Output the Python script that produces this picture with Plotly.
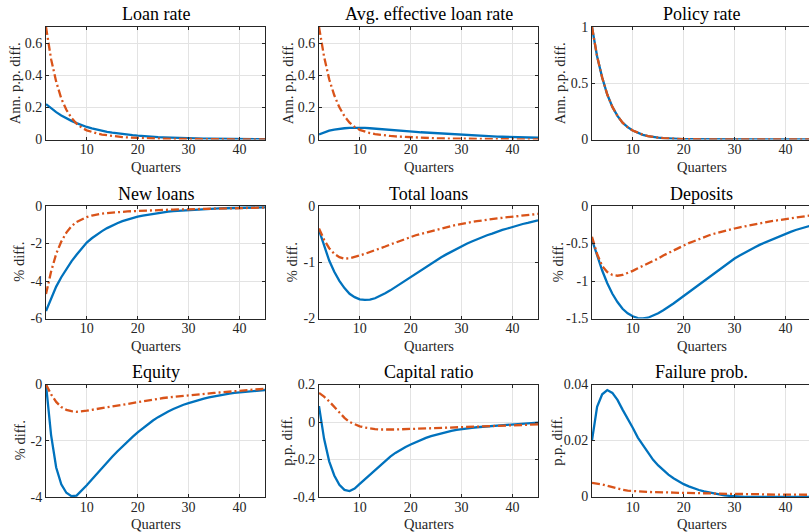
import plotly.graph_objects as go

# Impulse responses, quarters 2..45
quarters = list(range(2, 46))

loan_rate_a = [0.220, 0.193, 0.170, 0.150, 0.132, 0.116, 0.102, 0.089, 0.078, 0.069, 0.061,
               0.054, 0.048, 0.043, 0.038, 0.034, 0.030, 0.027, 0.024, 0.021, 0.019, 0.017,
               0.015, 0.0135, 0.012, 0.011, 0.0098, 0.0088, 0.0079, 0.0071, 0.0064, 0.0058, 0.0052,
               0.0047, 0.0042, 0.0038, 0.0034, 0.0031, 0.0028, 0.0025, 0.0023, 0.0021, 0.0019, 0.0017]
loan_rate_b = [0.700, 0.500, 0.360, 0.255, 0.185, 0.135, 0.098, 0.074, 0.057, 0.046, 0.038,
               0.031, 0.026, 0.022, 0.018, 0.015, 0.013, 0.011, 0.0095, 0.008, 0.007, 0.006,
               0.0053, 0.0047, 0.0042, 0.0037, 0.0033, 0.0029, 0.0026, 0.0023, 0.0021, 0.0019, 0.0017,
               0.0015, 0.0014, 0.0013, 0.0012, 0.0011, 0.001, 0.0009, 0.0008, 0.0008, 0.0007, 0.0007]

avg_loan_rate_a = [0.032, 0.045, 0.055, 0.062, 0.067, 0.070, 0.072, 0.073, 0.073, 0.072, 0.070,
                   0.068, 0.066, 0.063, 0.061, 0.058, 0.056, 0.053, 0.050, 0.048, 0.045, 0.043,
                   0.041, 0.038, 0.036, 0.034, 0.032, 0.030, 0.029, 0.027, 0.025, 0.024, 0.022,
                   0.021, 0.020, 0.018, 0.017, 0.016, 0.015, 0.014, 0.013, 0.012, 0.0115, 0.011]
avg_loan_rate_b = [0.700, 0.515, 0.375, 0.275, 0.200, 0.145, 0.105, 0.078, 0.060, 0.048, 0.040,
                   0.034, 0.029, 0.025, 0.022, 0.019, 0.017, 0.015, 0.013, 0.0115, 0.010, 0.009,
                   0.008, 0.0072, 0.0065, 0.0058, 0.0052, 0.0047, 0.0042, 0.0038, 0.0034, 0.0031, 0.0028,
                   0.0025, 0.0023, 0.0021, 0.0019, 0.0017, 0.0015, 0.0014, 0.0013, 0.0012, 0.0011, 0.001]

policy_rate = [1.0, 0.74, 0.55, 0.40, 0.29, 0.21, 0.15, 0.11, 0.08, 0.058, 0.042,
               0.031, 0.022, 0.016, 0.012, 0.0085, 0.006, 0.0045, 0.003, 0.0022, 0.0016, 0.0012,
               0.0009, 0.0007, 0.0005, 0.0004, 0.0003, 0.0002, 0.0002, 0.0001, 0.0001, 0.0001, 0.0001,
               0, 0, 0, 0, 0, 0, 0, 0, 0, 0, 0]

new_loans_a = [-5.6, -4.9, -4.3, -3.8, -3.35, -2.95, -2.6, -2.25, -1.95, -1.72, -1.52,
               -1.34, -1.18, -1.04, -0.92, -0.81, -0.72, -0.64, -0.57, -0.51, -0.46, -0.41,
               -0.37, -0.33, -0.30, -0.27, -0.25, -0.23, -0.21, -0.19, -0.175, -0.16, -0.15,
               -0.14, -0.13, -0.12, -0.11, -0.10, -0.095, -0.09, -0.085, -0.08, -0.075, -0.07]
new_loans_b = [-4.7, -3.5, -2.55, -1.9, -1.42, -1.08, -0.85, -0.70, -0.59, -0.51, -0.45,
               -0.41, -0.38, -0.35, -0.33, -0.31, -0.29, -0.275, -0.26, -0.25, -0.24, -0.23,
               -0.22, -0.21, -0.20, -0.19, -0.185, -0.18, -0.17, -0.165, -0.16, -0.15, -0.145,
               -0.14, -0.13, -0.125, -0.12, -0.115, -0.11, -0.105, -0.10, -0.095, -0.09, -0.085]

total_loans_a = [-0.43, -0.72, -0.97, -1.17, -1.33, -1.46, -1.56, -1.62, -1.66, -1.67, -1.665,
                 -1.64, -1.60, -1.55, -1.50, -1.44, -1.38, -1.32, -1.26, -1.20, -1.14, -1.08,
                 -1.02, -0.965, -0.91, -0.86, -0.81, -0.76, -0.715, -0.67, -0.63, -0.59, -0.555,
                 -0.52, -0.49, -0.455, -0.425, -0.40, -0.37, -0.345, -0.32, -0.30, -0.275, -0.255]
total_loans_b = [-0.40, -0.60, -0.75, -0.85, -0.91, -0.935, -0.93, -0.91, -0.88, -0.85, -0.82,
                 -0.785, -0.75, -0.72, -0.685, -0.65, -0.615, -0.58, -0.55, -0.52, -0.495, -0.47,
                 -0.445, -0.42, -0.40, -0.375, -0.355, -0.335, -0.315, -0.30, -0.285, -0.27, -0.255,
                 -0.24, -0.23, -0.22, -0.21, -0.20, -0.19, -0.18, -0.17, -0.16, -0.15, -0.14]

deposits_a = [-0.45, -0.66, -0.86, -1.03, -1.17, -1.28, -1.37, -1.43, -1.47, -1.495, -1.50,
              -1.49, -1.465, -1.43, -1.39, -1.35, -1.30, -1.25, -1.20, -1.15, -1.10, -1.045,
              -0.99, -0.94, -0.89, -0.84, -0.79, -0.745, -0.70, -0.66, -0.62, -0.585, -0.55,
              -0.515, -0.485, -0.455, -0.425, -0.395, -0.37, -0.345, -0.32, -0.30, -0.28, -0.26]
deposits_b = [-0.41, -0.64, -0.80, -0.88, -0.92, -0.93, -0.92, -0.895, -0.865, -0.83, -0.80,
              -0.765, -0.73, -0.70, -0.66, -0.625, -0.59, -0.555, -0.525, -0.495, -0.47, -0.44,
              -0.415, -0.39, -0.37, -0.35, -0.33, -0.315, -0.30, -0.285, -0.27, -0.255, -0.24,
              -0.225, -0.215, -0.205, -0.195, -0.185, -0.175, -0.165, -0.155, -0.145, -0.135, -0.125]

equity_a = [0.0, -1.8, -2.95, -3.55, -3.85, -3.97, -3.95, -3.78, -3.58, -3.38, -3.17,
            -2.96, -2.76, -2.57, -2.38, -2.20, -2.03, -1.86, -1.70, -1.55, -1.41, -1.28,
            -1.16, -1.05, -0.96, -0.87, -0.79, -0.72, -0.66, -0.60, -0.55, -0.50, -0.46,
            -0.42, -0.385, -0.355, -0.325, -0.30, -0.28, -0.26, -0.24, -0.225, -0.21, -0.195]
equity_b = [0.0, -0.35, -0.62, -0.80, -0.90, -0.95, -0.97, -0.96, -0.93, -0.90, -0.87,
            -0.835, -0.80, -0.765, -0.73, -0.70, -0.665, -0.635, -0.605, -0.58, -0.555, -0.53,
            -0.505, -0.48, -0.46, -0.44, -0.42, -0.40, -0.38, -0.36, -0.345, -0.33, -0.315,
            -0.30, -0.285, -0.27, -0.255, -0.24, -0.225, -0.21, -0.195, -0.18, -0.165, -0.15]

capital_ratio_a = [0.085, -0.09, -0.21, -0.285, -0.335, -0.362, -0.368, -0.355, -0.33, -0.305, -0.28,
                   -0.255, -0.23, -0.205, -0.185, -0.165, -0.148, -0.133, -0.12, -0.107, -0.095, -0.085,
                   -0.075, -0.067, -0.06, -0.053, -0.047, -0.042, -0.037, -0.034, -0.031, -0.028, -0.026,
                   -0.024, -0.022, -0.019, -0.017, -0.015, -0.013, -0.011, -0.009, -0.007, -0.005, -0.003]
capital_ratio_b = [0.155, 0.135, 0.11, 0.08, 0.05, 0.022, 0.0, -0.013, -0.023, -0.03, -0.035,
                   -0.038, -0.04, -0.041, -0.041, -0.04, -0.039, -0.038, -0.037, -0.036, -0.034, -0.033,
                   -0.032, -0.03, -0.029, -0.028, -0.027, -0.026, -0.025, -0.024, -0.023, -0.022, -0.021,
                   -0.02, -0.019, -0.018, -0.017, -0.016, -0.016, -0.015, -0.014, -0.014, -0.013, -0.013]

failure_prob_a = [0.020, 0.032, 0.0365, 0.038, 0.037, 0.0345, 0.031, 0.028, 0.0245, 0.021, 0.0182,
                  0.0155, 0.013, 0.011, 0.0092, 0.0077, 0.0064, 0.0053, 0.0043, 0.0035, 0.0028, 0.0022,
                  0.0017, 0.0013, 0.0009, 0.0006, 0.0003, 0.0001, -0.0001, -0.0002, -0.0003, -0.0003, -0.0003,
                  -0.0003, -0.0003, -0.0003, -0.0003, -0.0003, -0.0003, -0.0003, -0.0003, -0.0003, -0.0003, -0.0003]
failure_prob_b = [0.0048, 0.0046, 0.0042, 0.0037, 0.0032, 0.0027, 0.0023, 0.002, 0.0018, 0.0017, 0.0016,
                  0.0015, 0.0015, 0.0014, 0.0014, 0.0013, 0.0013, 0.0012, 0.0012, 0.0011, 0.0011, 0.001,
                  0.001, 0.001, 0.0009, 0.0009, 0.0009, 0.0008, 0.0008, 0.0008, 0.0007, 0.0007, 0.0007,
                  0.0007, 0.0006, 0.0006, 0.0006, 0.0006, 0.0006, 0.0005, 0.0005, 0.0005, 0.0005, 0.0005]

titles = ["Loan rate", "Avg. effective loan rate", "Policy rate",
          "New loans", "Total loans", "Deposits",
          "Equity", "Capital ratio", "Failure prob."]
ylabels = ["Ann. p.p. diff.", "Ann. p.p. diff.", "Ann. p.p. diff.",
           "% diff.", "% diff.", "% diff.",
           "% diff.", "p.p. diff.", "p.p. diff."]
x_label = "Quarters"
x_ticks = [10, 20, 30, 40]
x_ticklabels = ["10", "20", "30", "40"]

y_ticks = [
    [0, 0.2, 0.4, 0.6], [0, 0.2, 0.4, 0.6], [0, 0.5, 1],
    [-6, -4, -2, 0], [-2, -1, 0], [-1.5, -1, -0.5, 0],
    [-4, -2, 0], [-0.4, -0.2, 0, 0.2], [0, 0.02, 0.04],
]
y_ticklabels = [
    ["0", "0.2", "0.4", "0.6"], ["0", "0.2", "0.4", "0.6"], ["0", "0.5", "1"],
    ["-6", "-4", "-2", "0"], ["-2", "-1", "0"], ["-1.5", "-1", "-0.5", "0"],
    ["-4", "-2", "0"], ["-0.4", "-0.2", "0", "0.2"], ["0", "0.02", "0.04"],
]
y_ranges = [
    [0, 0.7], [0, 0.7], [0, 1],
    [-6, 0], [-2, 0], [-1.5, 0],
    [-4, 0], [-0.4, 0.2], [-0.0003, 0.04],
]

series_a = [loan_rate_a, avg_loan_rate_a, policy_rate, new_loans_a, total_loans_a,
            deposits_a, equity_a, capital_ratio_a, failure_prob_a]
series_b = [loan_rate_b, avg_loan_rate_b, policy_rate, new_loans_b, total_loans_b,
            deposits_b, equity_b, capital_ratio_b, failure_prob_b]

BLUE = "#0072BD"
ORANGE = "#D95319"
AXIS = "#262626"
GRID = "#e3e3e3"
FONT = "Liberation Serif"

W, H = 809, 532
col_left = [46, 319, 592]
row_top = [27, 206, 384.5]
ax_w, ax_h = 219, 112.5
# horizontal offset of each y label centre from its axis, px
ylabel_dx = [-31, -31, -32, -26.5, -27, -34, -26.5, -32, -35]
x_lo, x_hi = 2, 45

fig = go.Figure()
annotations = []
layout = {}

for i in range(9):
    r, c = divmod(i, 3)
    n = "" if i == 0 else str(i + 1)
    left = col_left[c]
    right = min(left + ax_w, W)
    top = row_top[r]
    bottom = top + ax_h
    xr_hi = x_lo + (x_hi - x_lo) * (right - left) / ax_w

    fig.add_trace(go.Scatter(x=quarters, y=series_a[i], mode="lines",
                             line=dict(color=BLUE, width=2.3),
                             xaxis="x" + n, yaxis="y" + n, hoverinfo="skip"))
    fig.add_trace(go.Scatter(x=quarters, y=series_b[i], mode="lines",
                             line=dict(color=ORANGE, width=2.3, dash="8px,3px,2px,3px"),
                             xaxis="x" + n, yaxis="y" + n, hoverinfo="skip"))

    common = dict(showline=True, linecolor=AXIS, linewidth=1, ticks="inside", ticklen=3,
                  tickcolor=AXIS, tickwidth=1, showgrid=True, gridcolor=GRID, gridwidth=1,
                  zeroline=False, fixedrange=True,
                  tickfont=dict(family=FONT, size=14, color=AXIS))
    layout["xaxis" + n] = dict(common, domain=[left / W, right / W], range=[x_lo, xr_hi],
                               tickvals=x_ticks, ticktext=x_ticklabels, anchor="y" + n,
                               mirror="ticks", ticklabelstandoff=-3)
    layout["yaxis" + n] = dict(common, domain=[1 - bottom / H, 1 - top / H], range=y_ranges[i],
                               tickvals=y_ticks[i], ticktext=y_ticklabels[i], anchor="x" + n,
                               mirror="ticks" if c < 2 else False)

    cx = (left + left + ax_w) / 2
    annotations.append(dict(text=titles[i], x=cx / W, y=1 - (top - 12.5) / H,
                            xref="paper", yref="paper", xanchor="center", yanchor="middle",
                            showarrow=False, font=dict(family=FONT, size=18, color="#000000")))
    annotations.append(dict(text=x_label, x=cx / W, y=1 - (bottom + 27) / H,
                            xref="paper", yref="paper", xanchor="center", yanchor="middle",
                            showarrow=False, font=dict(family=FONT, size=14.5, color=AXIS)))
    annotations.append(dict(text=ylabels[i], x=(left + ylabel_dx[i]) / W, y=1 - (top + ax_h / 2) / H,
                            xref="paper", yref="paper", xanchor="center", yanchor="middle",
                            textangle=-90, showarrow=False,
                            font=dict(family=FONT, size=14.5, color=AXIS)))

fig.update_layout(**layout)
# labels sit at the page edges; keep them from pushing the plot areas inward
fig.update_layout(width=W, height=H, margin=dict(l=0, r=0, t=0, b=0, autoexpand=False),
                  paper_bgcolor="white", plot_bgcolor="white", showlegend=False,
                  annotations=annotations, hovermode=False)

page_css = ("document.body.style.margin='0';document.body.style.padding='0';"
            "document.body.style.overflow='hidden';")
fig.write_html("out.html", config={"displayModeBar": False}, post_script=page_css)
